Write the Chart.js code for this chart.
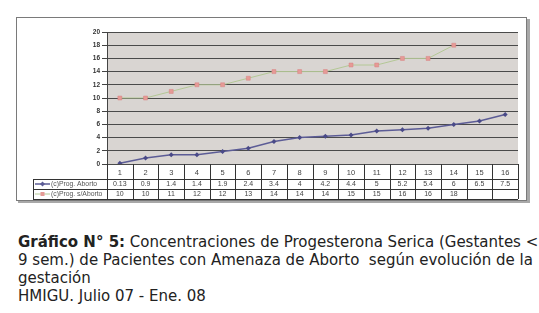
<!DOCTYPE html>
<html>
<head>
<meta charset="utf-8">
<script src="https://cdn.jsdelivr.net/npm/chart.js@4/dist/chart.umd.min.js"></script>
<style>
  body { margin: 0; background: #fff; width: 539px; height: 313px; overflow: hidden; position: relative; }
  #grafico { position: absolute; left: 0; top: 0; }
  .caption {
    position: absolute; left: 18px; top: 233px;
    font-family: "DejaVu Sans", Verdana, sans-serif; font-size: 15px; line-height: 18px;
    color: #222; white-space: nowrap;
  }
</style>
</head>
<body>
<canvas id="grafico" width="539" height="210"></canvas>
<div class="caption"><b>Gráfico N° 5:</b> Concentraciones de Progesterona Serica (Gestantes &lt;<br>9 sem.) de Pacientes con Amenaza de Aborto &nbsp;según evolución de la<br>gestación<br>HMIGU. Julio 07 - Ene. 08</div>
<script>
// semanas de gestacion (categorias del eje x)
var semanas = ['1', '2', '3', '4', '5', '6', '7', '8', '9', '10', '11', '12', '13', '14', '15', '16'];
// (c)Prog. Aborto
var progAborto = [0.13, 0.9, 1.4, 1.4, 1.9, 2.4, 3.4, 4, 4.2, 4.4, 5, 5.2, 5.4, 6, 6.5, 7.5];
var textoAborto = ['0.13', '0.9', '1.4', '1.4', '1.9', '2.4', '3.4', '4', '4.2', '4.4', '5', '5.2', '5.4', '6', '6.5', '7.5'];
// (c)Prog. s/Aborto
var progSinAborto = [10, 10, 11, 12, 12, 13, 14, 14, 14, 15, 15, 16, 16, 18, null, null];
var etiquetas = ['(c)Prog. Aborto', '(c)Prog. s/Aborto'];
var yMin = 0, yMax = 20, yPaso = 2;

var colorAborto = '#5c5c96';
var colorSinLinea = '#b4c896';
var colorSinPunto = '#e69a96';

// marco, fondo del area de trazado
var fondo = {
    id: 'fondo',
    beforeDraw: function (chart) {
        var ctx = chart.ctx, a = chart.chartArea;
        ctx.save();
        ctx.fillStyle = '#fff';
        ctx.fillRect(0, 0, chart.width, chart.height);
        // sombra del marco
        ctx.fillStyle = '#a8a8a8';
        ctx.fillRect(527, 19, 3, 184);
        ctx.fillRect(18, 201, 512, 2);
        ctx.strokeStyle = '#7a7a7a';
        ctx.lineWidth = 1;
        ctx.strokeRect(16.5, 17.5, 510, 183);
        ctx.fillStyle = '#d9d5d2';
        ctx.fillRect(a.left, a.top, a.right - a.left, a.bottom - a.top);
        ctx.restore();
    }
};

// tabla de datos debajo del grafico
var tabla = {
    id: 'tabla',
    afterDraw: function (chart) {
        var ctx = chart.ctx, a = chart.chartArea, x = chart.scales.x;
        var n = semanas.length;
        var colW = (a.right - a.left) / n;
        var legIzq = 33;
        var filaCat = a.bottom + 15, fila1 = filaCat + 10, fila2 = fila1 + 10;
        ctx.save();
        ctx.strokeStyle = '#333';
        ctx.lineWidth = 1;
        ctx.beginPath();
        ctx.moveTo(legIzq, Math.round(filaCat) + 0.5); ctx.lineTo(a.right, Math.round(filaCat) + 0.5);
        ctx.moveTo(legIzq, Math.round(fila1) + 0.5); ctx.lineTo(a.right, Math.round(fila1) + 0.5);
        ctx.moveTo(legIzq, Math.round(fila2) + 0.5); ctx.lineTo(a.right, Math.round(fila2) + 0.5);
        ctx.moveTo(legIzq + 0.5, filaCat); ctx.lineTo(legIzq + 0.5, fila2);
        for (var i = 0; i <= n; i++) {
            var xx = Math.round(a.left + i * colW) + 0.5;
            ctx.moveTo(xx, a.bottom); ctx.lineTo(xx, fila2);
        }
        ctx.stroke();

        ctx.font = '7px Arial';
        ctx.fillStyle = '#444';
        ctx.textAlign = 'center';
        ctx.textBaseline = 'middle';
        for (var j = 0; j < n; j++) {
            var cx = x.getPixelForValue(j);
            ctx.fillText(textoAborto[j], cx, (filaCat + fila1) / 2 + 0.5);
            if (progSinAborto[j] !== null) ctx.fillText(String(progSinAborto[j]), cx, (fila1 + fila2) / 2 + 0.5);
        }

        // leyenda en la tabla
        var filas = [(filaCat + fila1) / 2, (fila1 + fila2) / 2];
        ctx.textAlign = 'left';
        ctx.font = '6.8px Arial';
        for (var k = 0; k < 2; k++) {
            var y = filas[k];
            ctx.strokeStyle = k === 0 ? colorAborto : colorSinLinea;
            ctx.lineWidth = k === 0 ? 1.5 : 1;
            ctx.beginPath(); ctx.moveTo(35, y); ctx.lineTo(50, y); ctx.stroke();
            ctx.fillStyle = k === 0 ? colorAborto : colorSinPunto;
            if (k === 0) {
                ctx.beginPath(); ctx.moveTo(42.5, y - 2.5); ctx.lineTo(45, y); ctx.lineTo(42.5, y + 2.5); ctx.lineTo(40, y); ctx.fill();
            } else {
                ctx.fillRect(40.5, y - 2, 4, 4);
            }
            ctx.fillStyle = '#555';
            ctx.fillText(etiquetas[k], 51, y + 0.5, 55);
        }
        ctx.restore();
    }
};

var grafico = new Chart(document.getElementById('grafico').getContext('2d'), {
    type: 'line',
    data: {
        labels: semanas,
        datasets: [
            {
                label: etiquetas[0],
                data: progAborto,
                borderColor: colorAborto,
                backgroundColor: '#4a4a88',
                borderWidth: 1.5,
                pointStyle: 'rectRot',
                pointRadius: 2.5,
                pointBorderWidth: 0,
                tension: 0
            },
            {
                label: etiquetas[1],
                data: progSinAborto,
                borderColor: colorSinLinea,
                backgroundColor: colorSinPunto,
                pointBorderColor: '#d88080',
                borderWidth: 1,
                pointStyle: 'rect',
                pointRadius: 2.8,
                pointBorderWidth: 0.5,
                tension: 0
            }
        ]
    },
    options: {
        responsive: false,
        animation: false,
        layout: { padding: { top: 32, right: 21, left: 0, bottom: 0 } },
        plugins: { legend: { display: false }, tooltip: { enabled: false } },
        scales: {
            x: {
                offset: true,
                grid: { display: false, drawTicks: false },
                border: { display: false },
                ticks: { color: '#444', font: { family: 'Arial', size: 7.5 }, padding: 4, maxRotation: 0, autoSkip: false },
                afterFit: function (s) { s.height = 46; }
            },
            y: {
                min: yMin,
                max: yMax,
                grid: { color: '#4a4a4a', lineWidth: 1, tickLength: 5, tickColor: '#444' },
                border: { display: true, color: '#444' },
                ticks: { stepSize: yPaso, color: '#333', font: { family: 'Arial', size: 6.5, weight: 'bold' }, padding: 2 },
                afterFit: function (s) { s.width = 107; }
            }
        }
    },
    plugins: [fondo, tabla]
});
</script>
</body>
</html>
